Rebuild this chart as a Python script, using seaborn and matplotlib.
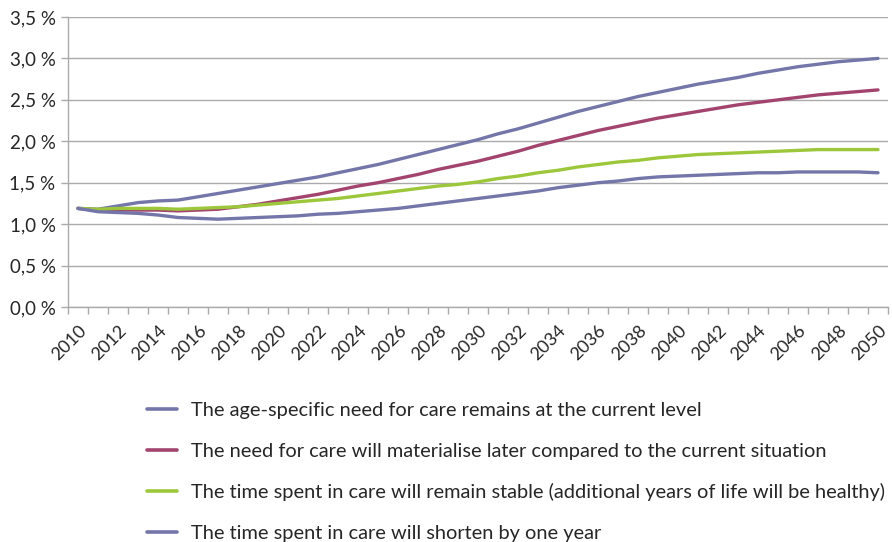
import numpy as np
import pandas as pd
import matplotlib
matplotlib.use("Agg")
import matplotlib.pyplot as plt
from matplotlib.ticker import FixedLocator, FuncFormatter
from matplotlib.lines import Line2D
import seaborn as sns

years = list(range(2010, 2051))

s_current = [1.19, 1.18, 1.22, 1.26, 1.28, 1.29, 1.33, 1.37, 1.41, 1.45,
             1.49, 1.53, 1.57, 1.62, 1.67, 1.72, 1.78, 1.84, 1.90, 1.96,
             2.02, 2.09, 2.15, 2.22, 2.29, 2.36, 2.42, 2.48, 2.54, 2.59,
             2.64, 2.69, 2.73, 2.77, 2.82, 2.86, 2.90, 2.93, 2.96, 2.98, 3.00]
s_later = [1.19, 1.17, 1.17, 1.17, 1.17, 1.16, 1.17, 1.18, 1.21, 1.24,
           1.28, 1.32, 1.36, 1.41, 1.46, 1.50, 1.55, 1.60, 1.66, 1.71,
           1.76, 1.82, 1.88, 1.95, 2.01, 2.07, 2.13, 2.18, 2.23, 2.28,
           2.32, 2.36, 2.40, 2.44, 2.47, 2.50, 2.53, 2.56, 2.58, 2.60, 2.62]
s_stable = [1.19, 1.18, 1.19, 1.19, 1.19, 1.18, 1.19, 1.20, 1.21, 1.23,
            1.25, 1.27, 1.29, 1.31, 1.34, 1.37, 1.40, 1.43, 1.46, 1.48,
            1.51, 1.55, 1.58, 1.62, 1.65, 1.69, 1.72, 1.75, 1.77, 1.80,
            1.82, 1.84, 1.85, 1.86, 1.87, 1.88, 1.89, 1.90, 1.90, 1.90, 1.90]
s_shorten = [1.19, 1.15, 1.14, 1.13, 1.11, 1.08, 1.07, 1.06, 1.07, 1.08,
             1.09, 1.10, 1.12, 1.13, 1.15, 1.17, 1.19, 1.22, 1.25, 1.28,
             1.31, 1.34, 1.37, 1.40, 1.44, 1.47, 1.50, 1.52, 1.55, 1.57,
             1.58, 1.59, 1.60, 1.61, 1.62, 1.62, 1.63, 1.63, 1.63, 1.63, 1.62]

labels = [
    "The age-specific need for care remains at the current level",
    "The need for care will materialise later compared to the current situation",
    "The time spent in care will remain stable (additional years of life will be healthy)",
    "The time spent in care will shorten by one year",
]
colors = ["#7476AA", "#A3446F", "#9DC73A", "#7476AA"]
y_ticks = [0.0, 0.5, 1.0, 1.5, 2.0, 2.5, 3.0, 3.5]
x_label_years = years[::2]

series = [s_current, s_later, s_stable, s_shorten]
frames = []
for lab, vals in zip(labels, series):
    frames.append(pd.DataFrame({"idx": np.arange(len(years)), "value": vals, "scenario": lab}))
df = pd.concat(frames, ignore_index=True)

sns.set_theme(style="white")
plt.rcParams["font.family"] = ["Lato", "DejaVu Sans"]

fig = plt.figure(figsize=(8.92, 5.42), dpi=100)
ax = fig.add_axes([68 / 892, 1 - 307 / 542, (888 - 68) / 892, (307 - 17) / 542])

sns.lineplot(data=df, x="idx", y="value", hue="scenario", hue_order=labels,
             palette=dict(zip(labels, colors)), linewidth=2.4, ax=ax,
             legend=False, solid_capstyle="round", solid_joinstyle="round")

ax.set_xlim(-0.5, len(years) - 0.5)
ax.set_ylim(0, 3.5)
ax.set_xlabel("")
ax.set_ylabel("")

# y axis
ax.yaxis.set_major_locator(FixedLocator(y_ticks))
ax.yaxis.set_major_formatter(FuncFormatter(lambda v, p: f"{v:.1f}\u00a0%".replace(".", ",")))
ax.grid(axis="y", color="#AAAAAA", linewidth=1.0)
ax.set_axisbelow(True)
ax.tick_params(axis="y", which="major", length=5, width=1, color="#AAAAAA",
               labelsize=13.5, pad=4, left=True)

# x axis: labels at even years, tick marks at category boundaries
ax.xaxis.set_major_locator(FixedLocator([years.index(y) for y in x_label_years]))
ax.set_xticklabels([str(y) for y in x_label_years], rotation=45, ha="right",
                   rotation_mode="anchor", fontsize=13)
ax.xaxis.set_minor_locator(FixedLocator(np.arange(-0.5, len(years), 1.0)))
ax.tick_params(axis="x", which="major", length=0, pad=11)
ax.tick_params(axis="x", which="minor", length=5, width=1, color="#AAAAAA", bottom=True)

for side in ["top", "right"]:
    ax.spines[side].set_visible(False)
for side in ["left", "bottom"]:
    ax.spines[side].set_color("#AAAAAA")
    ax.spines[side].set_linewidth(1.0)

# legend
handles = [Line2D([0], [0], color=c, linewidth=2.6) for c in colors]
fig.legend(handles, labels, loc="upper left", bbox_to_anchor=(147 / 892, 1 - 402 / 542),
           frameon=False, fontsize=14.4, handlelength=1.5, handletextpad=0.7,
           labelspacing=1.18, borderpad=0, borderaxespad=0)

fig.savefig("out.png", dpi=100)
